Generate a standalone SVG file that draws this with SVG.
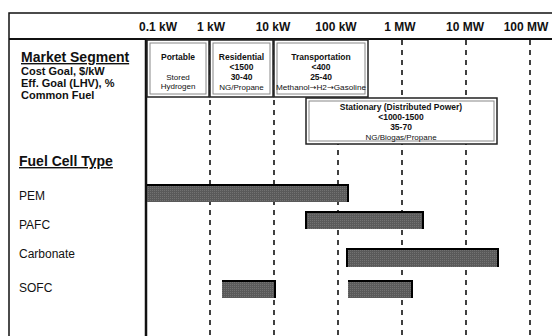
<svg xmlns="http://www.w3.org/2000/svg" width="552" height="336" viewBox="0 0 552 336">
<style>
text{font-family:"Liberation Sans",Arial,sans-serif;fill:#111}
.hdr{font-size:12px;font-weight:bold}
.lbl{font-size:11px;font-weight:bold}
.big{font-size:14px;font-weight:bold;text-decoration:underline}
.row{font-size:12px}
.bt{font-size:8.5px;font-weight:bold;text-anchor:middle}
.nt{font-size:8px;text-anchor:middle}
.arr{font-family:"DejaVu Sans",sans-serif}
.dash{stroke:#111;stroke-width:1.6;stroke-dasharray:5,5}
.boxo{fill:#fff;stroke:#222;stroke-width:1.5}
.boxi{fill:none;stroke:#888;stroke-width:1}
.bar{fill:url(#dots)}
.edge{stroke:#000;stroke-width:2;fill:none}
</style>
<defs>
<pattern id="dots" width="2" height="2" patternUnits="userSpaceOnUse">
<rect width="2" height="2" fill="#5a5a5a"/>
<rect width="1" height="1" fill="#727272"/>
</pattern>
</defs>
<rect width="552" height="336" fill="#fff"/>
<g id="frame">
<path d="M9,336 V13 H552" fill="none" stroke="#111" stroke-width="1.5"/>
<line x1="9" y1="39" x2="552" y2="39" stroke="#111" stroke-width="2"/>
<line x1="146" y1="39" x2="146" y2="336" stroke="#111" stroke-width="2.5"/>
</g>
<g id="scale">
<text class="hdr" x="158" y="31" text-anchor="middle">0.1 kW</text>
<text class="hdr" x="211" y="31" text-anchor="middle">1 kW</text>
<text class="hdr" x="273" y="31" text-anchor="middle">10 kW</text>
<text class="hdr" x="336" y="31" text-anchor="middle">100 kW</text>
<text class="hdr" x="400" y="31" text-anchor="middle">1 MW</text>
<text class="hdr" x="465" y="31" text-anchor="middle">10 MW</text>
<text class="hdr" x="526" y="31" text-anchor="middle">100 MW</text>
</g>
<g id="connectors">
<line class="dash" x1="210" y1="40" x2="210" y2="336"/>
<line class="dash" x1="274" y1="40" x2="274" y2="336"/>
<line class="dash" x1="338" y1="40" x2="338" y2="336"/>
<line class="dash" x1="402" y1="40" x2="402" y2="336"/>
<line class="dash" x1="466" y1="40" x2="466" y2="336"/>
<line class="dash" x1="530" y1="40" x2="530" y2="336"/>
</g>
<g id="labels">
<text class="big" x="21" y="62">Market Segment</text>
<text class="lbl" x="21" y="75">Cost Goal, $/kW</text>
<text class="lbl" x="21" y="87">Eff. Goal (LHV), %</text>
<text class="lbl" x="21" y="99">Common Fuel</text>
<text class="big" x="19" y="166">Fuel Cell Type</text>
<text class="row" x="19" y="200">PEM</text>
<text class="row" x="19" y="229">PAFC</text>
<text class="row" x="19" y="258">Carbonate</text>
<text class="row" x="19" y="292">SOFC</text>
</g>
<g id="portable">
<rect class="boxo" x="147" y="40" width="62" height="57"/>
<rect class="boxi" x="150" y="43" width="56" height="51"/>
<text class="bt" x="178" y="60">Portable</text>
<text class="nt" x="178" y="80">Stored</text>
<text class="nt" x="178" y="89">Hydrogen</text>
</g>
<g id="residential">
<rect class="boxo" x="210" y="40" width="63" height="57"/>
<rect class="boxi" x="213" y="43" width="57" height="51"/>
<text class="bt" x="241.5" y="60">Residential</text>
<text class="bt" x="241.5" y="70">&lt;1500</text>
<text class="bt" x="241.5" y="80">30-40</text>
<text class="nt" x="241.5" y="90">NG/Propane</text>
</g>
<g id="transportation">
<rect class="boxo" x="274" y="40" width="94" height="57"/>
<rect class="boxi" x="277" y="43" width="88" height="51"/>
<text class="bt" x="321" y="60">Transportation</text>
<text class="bt" x="321" y="70">&lt;400</text>
<text class="bt" x="321" y="80">25-40</text>
<text class="nt" x="321" y="90" style="font-size:7.4px" textLength="90" lengthAdjust="spacingAndGlyphs">Methanol<tspan class="arr">→</tspan>H2<tspan class="arr">→</tspan>Gasoline</text>
</g>
<g id="stationary">
<rect class="boxo" x="306" y="98" width="191" height="46"/>
<rect class="boxi" x="309" y="101" width="185" height="40"/>
<text class="bt" x="401" y="110">Stationary (Distributed Power)</text>
<text class="bt" x="401" y="120">&lt;1000-1500</text>
<text class="bt" x="401" y="130">35-70</text>
<text class="nt" x="401" y="140">NG/Biogas/Propane</text>
</g>
<g id="pem">
<rect class="bar" x="147" y="185" width="202" height="17"/>
<path class="edge" d="M147,185 H348 V202"/>
</g>
<g id="pafc">
<rect class="bar" x="306" y="212" width="118" height="17"/>
<path class="edge" d="M306,229 V212 H423 V229"/>
</g>
<g id="carbonate">
<rect class="bar" x="347" y="249" width="152" height="18"/>
<path class="edge" d="M347,267 V249 H498 V267"/>
</g>
<g id="sofc">
<rect class="bar" x="222" y="281" width="54" height="17"/>
<path class="edge" d="M222,281 H275 V298"/>
<rect class="bar" x="348" y="281" width="65" height="17"/>
<path class="edge" d="M348,281 H412 V298"/>
</g>
</svg>
